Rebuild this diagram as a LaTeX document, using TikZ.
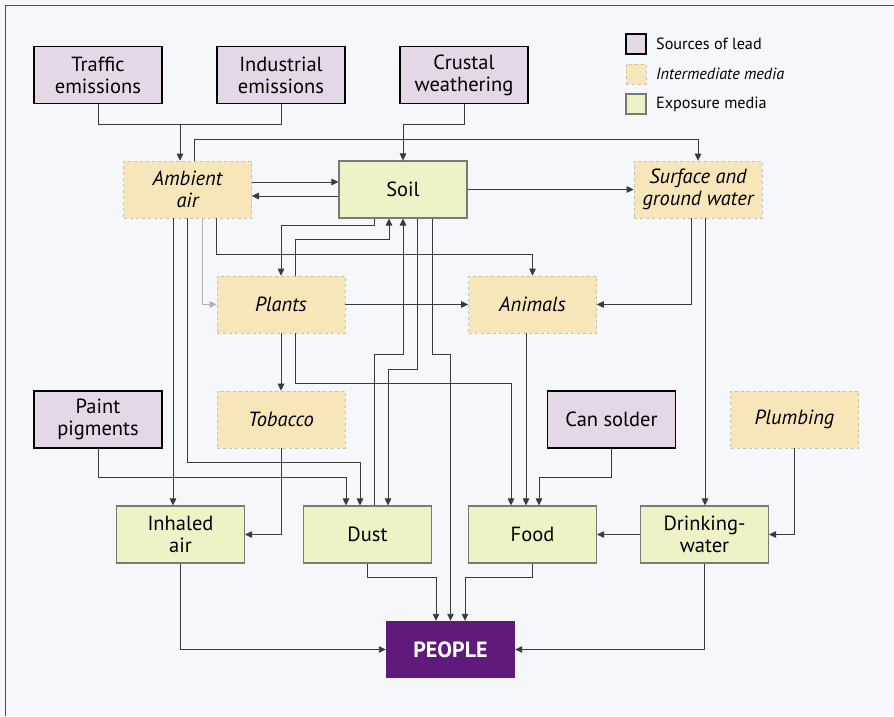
\documentclass[tikz,border=0pt]{standalone}
\usepackage{fontspec}
\setmainfont{PT Sans}
\usetikzlibrary{arrows.meta}
\definecolor{bgc}{HTML}{F6F7FB}
\definecolor{srcfill}{HTML}{E3D7E8}
\definecolor{midfill}{HTML}{F6E6BA}
\definecolor{midline}{HTML}{C9C2AE}
\definecolor{expfill}{HTML}{EEF2C6}
\definecolor{expline}{HTML}{7A7A72}
\definecolor{peoplec}{HTML}{5F1A7C}
\definecolor{lnc}{HTML}{3A3A3A}
\tikzset{
  boxbase/.style={rectangle, inner sep=0pt, minimum width=128pt, minimum height=57pt, align=center, font=\fontsize{20.5}{22}\selectfont},
  srcbox/.style={boxbase, fill=srcfill, draw=black, line width=1.6pt},
  midbox/.style={boxbase, fill=midfill, draw=midline, dashed, line width=0.6pt, font=\fontsize{20.5}{22}\selectfont\itshape},
  expbox/.style={boxbase, fill=expfill, draw=expline, line width=1.1pt},
  pplbox/.style={boxbase, fill=peoplec, text=white, font=\fontsize{22}{24}\selectfont\bfseries},
  lgd/.style={rectangle, inner sep=0pt, minimum width=20pt, minimum height=20pt},
  lgdtext/.style={anchor=west, inner sep=0pt, font=\fontsize{16.2}{18}\selectfont},
  ln/.style={draw=lnc, line width=0.9pt},
  arr/.style={ln, -{Triangle[length=7pt,width=6.5pt]}},
}
\begin{document}
\begin{tikzpicture}[x=1pt,y=-1pt]
\useasboundingbox (0,0) rectangle (894,716);
\fill[bgc] (0,0) rectangle (894,716);
\draw[draw=black!70, line width=0.8pt] (5,716) -- (5,5) -- (894,5);

% legend
\node[lgd, srcbox, minimum width=20pt, minimum height=20pt, line width=1.4pt] (lg1) at (636,44) {};
\node[lgd, midbox, minimum width=20pt, minimum height=20pt] (lg2) at (636,74) {};
\node[lgd, expbox, minimum width=20pt, minimum height=20pt] (lg3) at (636,104) {};
\node[lgdtext] (lt1) at (656,44) {Sources of lead};
\node[lgdtext, font=\fontsize{16.2}{18}\selectfont\itshape] (lt2) at (656,74) {Intermediate media};
\node[lgdtext] (lt3) at (656,104) {Exposure media};

% boxes
\node[srcbox] (traffic) at (98,75) {Traffic\\emissions};
\node[srcbox] (industrial) at (281,75) {Industrial\\emissions};
\node[srcbox] (crustal) at (464,75) {Crustal\\weathering};
\node[midbox] (ambient) at (187.5,189.5) {Ambient\\air};
\node[expbox] (soil) at (403,189.5) {Soil};
\node[midbox] (surface) at (698,189.5) {Surface and\\ground water};
\node[midbox] (plants) at (281,304.5) {Plants};
\node[midbox] (animals) at (532.5,304.5) {Animals};
\node[srcbox] (paint) at (98,419.5) {Paint\\pigments};
\node[midbox] (tobacco) at (281,419.5) {Tobacco};
\node[srcbox] (can) at (611.5,419.5) {Can solder};
\node[midbox] (plumbing) at (794.5,419.5) {Plumbing};
\node[expbox] (inhaled) at (180.5,534.5) {Inhaled\\air};
\node[expbox] (dust) at (367.5,534.5) {Dust};
\node[expbox] (food) at (532.5,534.5) {Food};
\node[expbox] (drinking) at (704.5,534.5) {Drinking-\\water};
\node[pplbox, minimum width=129pt] (people) at (450.5,649.5) {PEOPLE};

% connectors
\draw[ln] (traffic.south) -- (98,124) -- (281,124) -- (industrial.south);
\draw[arr] (180,124) -- (ambient.north -| 180,0);
\draw[arr] (crustal.south) -- (464,124) -- (403,124) -- (soil.north);
\draw[arr] (ambient.north -| 194,0) -- (194,139) -- (698,139) -- (surface.north);
\draw[arr] (ambient.east |- 0,182) -- (soil.west |- 0,182);
\draw[arr] (soil.west |- 0,196) -- (ambient.east |- 0,196);
\draw[arr] (soil.east) -- (surface.west);
\draw[arr] (ambient.south -| 216,0) -- (216,254) -- (532.5,254) -- (animals.north);
\draw[arr, draw=black!30] (ambient.south -| 202,0) -- (202,304.5) -- (plants.west);
\draw[arr] (ambient.south -| 173,0) -- (inhaled.north -| 173,0);
\draw[arr] (ambient.south -| 187,0) -- (187,462) -- (360,462) -- (dust.north -| 360,0);
\draw[arr] (soil.south -| 374,0) -- (374,225) -- (281,225) -- (plants.north);
\draw[arr] (plants.north -| 295,0) -- (295,239) -- (389,239) -- (soil.south -| 389,0);
\draw[arr] (dust.north -| 374,0) -- (374,354) -- (403,354) -- (soil.south);
\draw[arr] (soil.south -| 417,0) -- (417,369) -- (388,369) -- (dust.north -| 388,0);
\draw[arr] (soil.south -| 432,0) -- (432,354) -- (450.5,354) -- (people.north);
\draw[arr] (plants.east) -- (animals.west);
\draw[arr] (plants.south) -- (tobacco.north);
\draw[arr] (plants.south -| 295,0) -- (295,383) -- (511,383) -- (food.north -| 511,0);
\draw[arr] (surface.south -| 691,0) -- (691,304.5) -- (animals.east);
\draw[arr] (surface.south -| 705,0) -- (drinking.north -| 705,0);
\draw[arr] (animals.south -| 526,0) -- (food.north -| 526,0);
\draw[arr] (can.south) -- (611.5,477) -- (539,477) -- (food.north -| 539,0);
\draw[arr] (plumbing.south) -- (794.5,534.5) -- (drinking.east);
\draw[arr] (drinking.west) -- (food.east);
\draw[arr] (paint.south) -- (98,477) -- (346,477) -- (dust.north -| 346,0);
\draw[arr] (tobacco.south) -- (281,534.5) -- (inhaled.east);
\draw[arr] (inhaled.south) -- (180.5,649.5) -- (people.west);
\draw[arr] (dust.south) -- (367.5,577) -- (436,577) -- (people.north -| 436,0);
\draw[arr] (food.south) -- (532.5,577) -- (465,577) -- (people.north -| 465,0);
\draw[arr] (drinking.south) -- (704.5,649.5) -- (people.east);
\end{tikzpicture}
\end{document}
